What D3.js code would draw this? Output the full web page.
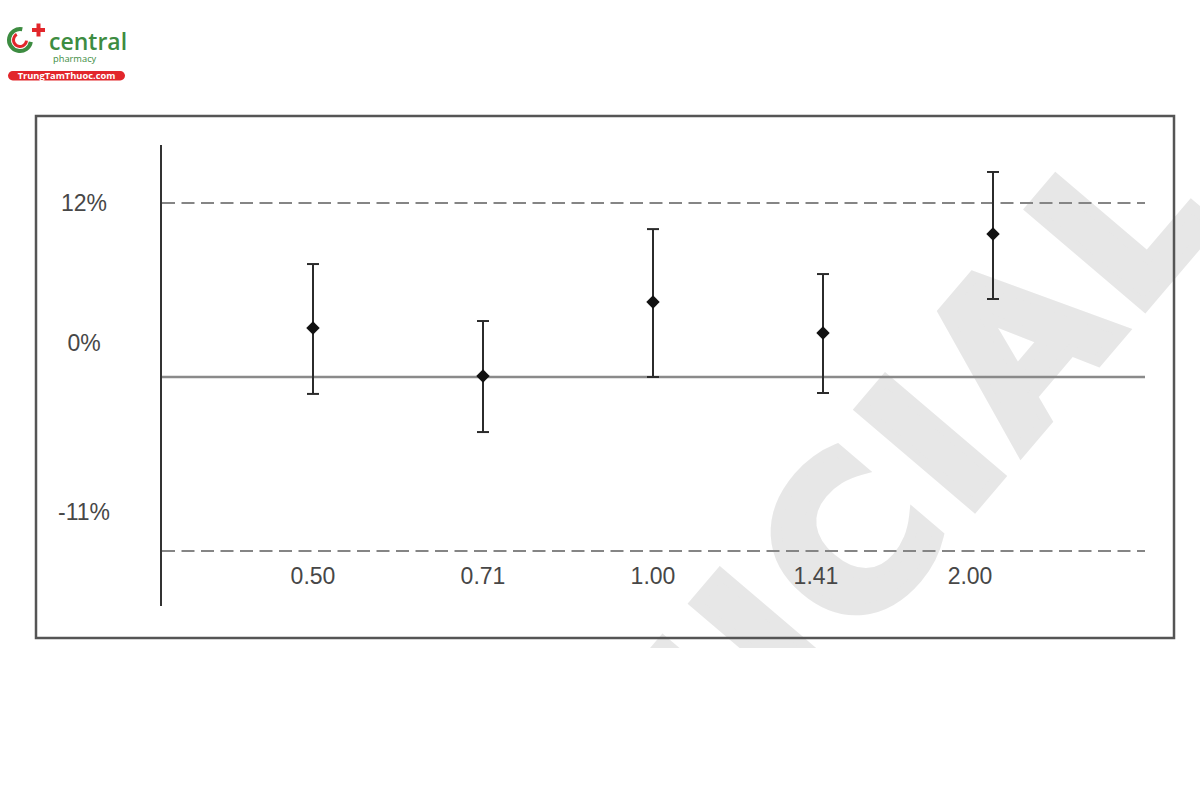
<!DOCTYPE html>
<html>
<head>
<meta charset="utf-8">
<script src="https://cdn.jsdelivr.net/npm/d3@7"></script>
<style>
  body { margin: 0; background: #fff; }
  svg { display: block; }
</style>
</head>
<body>
<div id="chart"></div>
<script>
// values (ratio difference, %)
const doses = ["0.50", "0.71", "1.00", "1.41", "2.00"];
const ratioMean = [3.38, 0.07, 5.17, 3.03, 9.86];
const ciLower = [-1.07, -3.48, 0.0, -1.01, 5.38];
const ciUpper = [7.79, 3.86, 10.2, 7.10, 14.14];

const yTicks = [12, 0, -11];
const yTickLabels = ["12%", "0%", "-11%"];
const limitLines = [12, -11];   // dashed limits
const baseLine = 0;             // solid reference

const width = 1200, height = 800;
const plot = { left: 161, right: 1145, top: 145, bottom: 606 };

const svg = d3.select("#chart")
  .append("svg")
  .attr("width", width)
  .attr("height", height);

// watermark, clipped to the original image area
svg.append("clipPath")
  .attr("id", "wmclip")
  .append("rect")
  .attr("x", 0).attr("y", 0)
  .attr("width", width).attr("height", 648);

const wmSize = 205, wmGap = 14;
svg.append("g")
  .attr("clip-path", "url(#wmclip)")
  .append("g")
  .attr("transform", "translate(930,443) rotate(-49.6)")
  .append("text")
  .attr("x", -(3.508 * wmSize + 5 * wmGap))
  .attr("y", 0.364 * wmSize)
  .style("font-family", "'DejaVu Sans', sans-serif")
  .style("font-weight", "bold")
  .style("font-size", wmSize + "px")
  .style("letter-spacing", wmGap + "px")
  .style("fill", "#e7e7e7")
  .style("stroke", "#e7e7e7")
  .style("stroke-width", 11)
  .text("OFFICIAL");

// frame
svg.append("rect")
  .attr("x", 36).attr("y", 116)
  .attr("width", 1138).attr("height", 522)
  .attr("fill", "none")
  .attr("stroke", "#555")
  .attr("stroke-width", 2.5);

// scales
const x = d3.scalePoint()
  .domain(doses)
  .range([plot.left, plot.right])
  .padding(0.894);

const y = d3.scaleLinear()
  .domain([-11, 0, 12])
  .range([551, 377, 203]);

// y axis line (no ticks)
svg.append("line")
  .attr("x1", plot.left).attr("x2", plot.left)
  .attr("y1", plot.top).attr("y2", plot.bottom)
  .attr("stroke", "#333")
  .attr("stroke-width", 2);

// limit lines
svg.selectAll(".limit")
  .data(limitLines)
  .enter().append("line")
  .attr("class", "limit")
  .attr("x1", plot.left + 1).attr("x2", plot.right)
  .attr("y1", d => y(d)).attr("y2", d => y(d))
  .attr("stroke", "#858585")
  .attr("stroke-width", 2)
  .attr("stroke-dasharray", "13,6.5");

svg.append("line")
  .attr("x1", plot.left + 1).attr("x2", plot.right)
  .attr("y1", y(baseLine)).attr("y2", y(baseLine))
  .attr("stroke", "#8a8a8a")
  .attr("stroke-width", 2.5);

// y tick labels (the original sets them a bit above the lines)
const yLabelShift = [0, -34, -39];
svg.selectAll(".ylab")
  .data(yTicks)
  .enter().append("text")
  .attr("class", "ylab")
  .attr("x", 84)
  .attr("y", (d, i) => y(d) + yLabelShift[i])
  .attr("dy", "0.35em")
  .style("text-anchor", "middle")
  .style("font-family", "'Liberation Sans', Arial, sans-serif")
  .style("font-size", "23px")
  .style("fill", "#474747")
  .text((d, i) => yTickLabels[i]);

// x labels
const xLabelShift = [0, 0, 0, -7, -23];
svg.selectAll(".xlab")
  .data(doses)
  .enter().append("text")
  .attr("class", "xlab")
  .attr("x", (d, i) => x(d) + xLabelShift[i])
  .attr("y", 576)
  .attr("dy", "0.35em")
  .style("text-anchor", "middle")
  .style("font-family", "'Liberation Sans', Arial, sans-serif")
  .style("font-size", "23px")
  .style("fill", "#474747")
  .text(d => d);

// error bars
const rows = doses.map((d, i) => ({ dose: d, mean: ratioMean[i], lo: ciLower[i], hi: ciUpper[i] }));
const capW = 6;

const bars = svg.selectAll(".bar")
  .data(rows)
  .enter().append("g")
  .attr("class", "bar")
  .attr("stroke", "#2b2b2b")
  .attr("stroke-width", 2);

bars.append("line")
  .attr("x1", d => x(d.dose)).attr("x2", d => x(d.dose))
  .attr("y1", d => y(d.lo)).attr("y2", d => y(d.hi));

bars.append("line")
  .attr("x1", d => x(d.dose) - capW).attr("x2", d => x(d.dose) + capW)
  .attr("y1", d => y(d.hi)).attr("y2", d => y(d.hi));

bars.append("line")
  .attr("x1", d => x(d.dose) - capW).attr("x2", d => x(d.dose) + capW)
  .attr("y1", d => y(d.lo)).attr("y2", d => y(d.lo));

svg.selectAll(".pt")
  .data(rows)
  .enter().append("path")
  .attr("class", "pt")
  .attr("d", d3.symbol(d3.symbolSquare, 90))
  .attr("transform", d => `translate(${x(d.dose)},${y(d.mean)}) rotate(45)`)
  .attr("fill", "#111");

// logo
const logo = svg.append("g");
const green = "#3d8c41", red = "#e2262b";

logo.append("path")
  .attr("transform", "translate(20,40)")
  .attr("d", d3.arc()({ innerRadius: 9, outerRadius: 13,
    startAngle: 100 * Math.PI / 180, endAngle: 372 * Math.PI / 180 }))
  .attr("fill", green);

logo.append("path")
  .attr("transform", "translate(20,40)")
  .attr("d", d3.arc()({ innerRadius: 5, outerRadius: 8,
    startAngle: 95 * Math.PI / 180, endAngle: 330 * Math.PI / 180 }))
  .attr("fill", red);

logo.append("rect").attr("x", 32).attr("y", 28).attr("width", 13).attr("height", 4).attr("fill", red);
logo.append("rect").attr("x", 36.5).attr("y", 23.5).attr("width", 4).attr("height", 13).attr("fill", red);

logo.append("text")
  .attr("x", 49).attr("y", 50)
  .style("font-family", "'Open Sans', sans-serif")
  .style("font-weight", 600)
  .style("font-size", "23px")
  .style("fill", green)
  .text("central");

logo.append("text")
  .attr("x", 53).attr("y", 62)
  .style("font-family", "'Open Sans', sans-serif")
  .style("font-size", "9.3px")
  .style("fill", green)
  .text("pharmacy");

logo.append("rect")
  .attr("x", 8).attr("y", 71)
  .attr("width", 117).attr("height", 9.5)
  .attr("rx", 4.75)
  .attr("fill", red);

logo.append("text")
  .attr("x", 66.5).attr("y", 79)
  .style("text-anchor", "middle")
  .style("font-family", "'Open Sans', sans-serif")
  .style("font-weight", "bold")
  .style("font-size", "9.3px")
  .style("fill", "#fff")
  .text("TrungTamThuoc.com");
</script>
</body>
</html>
